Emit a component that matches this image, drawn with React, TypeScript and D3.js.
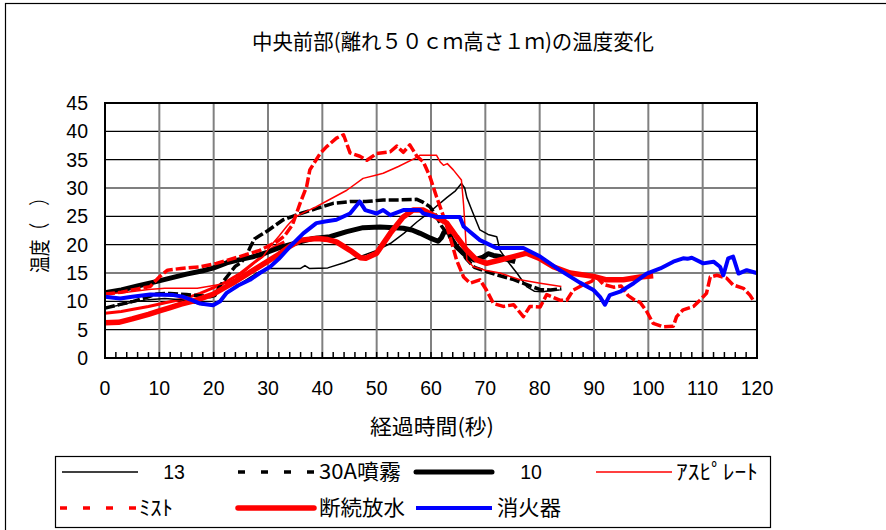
import React from "react";
import * as d3 from "d3";

type Pt = [number, number];

const xTicks = [0, 10, 20, 30, 40, 50, 60, 70, 80, 90, 100, 110, 120];
const yTicks = [0, 5, 10, 15, 20, 25, 30, 35, 40, 45];

const s13: Pt[] = [[0,8.8],[3,9.4],[5.2,9.9],[8,10.3],[11,10.5],[14,10.3],[16,9.8],[18,9.4],[19.5,9.3],[21,10],[22.5,11.4],[24,12.6],[26,13.8],[28,15],[30,15.8],[33,15.8],[36,15.8],[36.8,16.3],[37.6,15.8],[41,15.9],[44,16.8],[47,17.9],[50,19],[52.5,20.2],[55,22],[57.4,24],[59.8,25.8],[62.9,28.3],[64.5,29.5],[65.6,30.8],[66.2,30],[66.6,28.3],[67.5,26.1],[69,22.6],[70.5,21.8],[72.1,21.4],[72.7,19],[74,17.2],[75.8,15],[77.6,12.6],[79,11.8],[80.6,11.7],[82,11.9],[83.7,12]];
const s30A: Pt[] = [[0,8.8],[3,9.5],[5.2,10],[8,10.8],[9.5,11.3],[12,11.4],[15,11.2],[17.5,11],[19.3,10.8],[20.2,11],[21,12.5],[22,13.8],[23,15],[24,16.2],[25,16.8],[26,18],[26.7,19.5],[27.5,21],[28.5,21.6],[30,22.5],[32.8,24.4],[36,25.5],[39,26.4],[42,27.3],[45.1,27.6],[48,27.6],[51.2,27.9],[54.3,27.9],[57.4,28],[58.5,27.5],[59.8,26.7],[61,25],[62,23.2],[63.5,21.3],[65,19.5],[66.5,17.5],[68,16],[70,15.3],[72,14.7],[75,13.9],[78,12.8],[80,12.1],[82,12],[84,12.2]];
const s10: Pt[] = [[0,11.5],[3,12],[6,12.7],[9,13.4],[12,14.1],[15,14.8],[18,15.4],[20,15.9],[22.4,16.8],[25,17.4],[27,17.8],[30,18.7],[32.2,19.5],[35.9,20.5],[38.3,21.1],[41.4,21.4],[44.5,22.3],[47.5,23],[50.6,23.1],[54.9,22.9],[56.5,22.6],[58,22],[60,21.1],[61.3,20.6],[61.9,21.2],[62.4,22.2],[63.2,22.3],[63.8,21],[64.7,19.6],[66.6,17.9],[68,17.3],[69.6,17.8],[70.5,18.4],[71.5,18.1],[72.7,17.9],[74,17.4],[75.5,17]];
const sAspirate: Pt[] = [[0,11.3],[4,11.6],[8,12.1],[11,12.3],[17,12.3],[20,12.8],[22.4,13.2],[24,14],[26,15.5],[27.5,16.8],[29,17.8],[30.5,19.8],[32,21.5],[33.5,23.3],[35,24.9],[36.5,25.6],[38.9,26.7],[41,27.8],[44.5,29.6],[47.5,31.7],[50,32.3],[51.2,32.6],[54,33.8],[57.4,35.4],[58,35.8],[61,35.8],[61.7,34.6],[62.3,34],[63,34.3],[64.1,33.2],[65.6,31.4],[66,27],[66.3,22.6],[66.6,17.3],[67.8,16.1],[70,15.5],[72.7,15],[76.4,13.8],[80.1,13.2],[84,12.6]];
const sMist: Pt[] = [[0,11.3],[3,11.6],[6,12.2],[8.3,12.6],[10,14.3],[11.5,15.5],[14,15.8],[17.5,16.1],[20.5,16.7],[24.8,17.9],[28.5,19],[31.6,20.5],[33,21.5],[34.5,23.5],[35.9,27.3],[37.1,30.2],[37.7,33.2],[39.6,36.1],[40.8,37.3],[42.6,38.8],[43.9,39.4],[45.1,36.2],[46.9,35.6],[48.2,34.9],[50,36.1],[52.5,36.4],[53.7,37.4],[54.9,36.3],[56.1,37.6],[57.4,35.6],[58.6,34.6],[59.8,32],[61,28.5],[62.3,25],[63.5,21.4],[64.7,17.3],[66,14.3],[67.2,13.2],[69,13.8],[70.2,12],[71.5,9.6],[73.3,9.1],[75.2,9.4],[77,7.3],[78.2,9.1],[80.1,9],[81.3,11.2],[83.7,10.2],[85,10.2],[86.2,12],[88,12.9],[89.5,13.5],[90.5,14.3],[91.7,13],[93.6,12.5],[95,12.7],[96.3,11],[97.5,10.2],[98.5,9.8],[99.7,8.2],[100.9,6.1],[102.7,5.5],[104.6,5.6],[105.2,7.3],[106.4,8.5],[108.3,9.1],[109.5,10.2],[110.7,11.4],[111.4,14.3],[112.6,14.6],[114.4,14.1],[115.6,12.9],[117.5,12.3],[118.7,11.1],[119.3,10.2]];
const sIntermittent: Pt[] = [[0,6.2],[2.5,6.3],[5,6.9],[8,7.7],[10,8.3],[12,8.9],[14,9.5],[16,10],[18,10.6],[20,11.3],[22,12.4],[24,13.5],[26,14.7],[28,15.9],[30,17.1],[32,18.3],[34,19.7],[36,20.8],[39,21.1],[41,20.9],[42.6,20.5],[45.1,19],[47,17.7],[48,17.6],[50,18.5],[52.5,22],[54.9,24.9],[56.7,26.1],[58.6,26.1],[60.4,25.2],[62.9,23.8],[64.7,21.4],[66.6,19],[68.4,17.3],[70.2,16.7],[72.7,17.3],[75.2,17.9],[77.6,18.5],[80.1,17.5],[82.5,16.1],[85.6,15],[89.9,14.4],[92.3,13.8],[95.4,13.8],[98.5,14.3],[100.9,14.5]];
const sExtinguisher: Pt[] = [[0,10.8],[2.8,10.5],[5,10.8],[8.3,11.2],[12.6,11.1],[14.4,10.8],[16,10.2],[17.5,9.6],[19.9,9.3],[21.2,10],[22.4,11.5],[24.5,12.8],[26.7,13.8],[28.5,15],[30.4,16.1],[32,17.5],[34,19.6],[36.5,22],[38.9,23.8],[40.5,24.1],[42.6,24.4],[45.1,25.5],[46.9,27.6],[47.9,26.1],[50,25.5],[51.2,26.1],[52.5,25.2],[54.9,26.1],[58,26.1],[58.6,25.5],[61,24.9],[65.3,24.9],[66,23.2],[69,20.8],[72.1,19.4],[77,19.4],[80.1,17.9],[83.7,15.5],[87.4,13.3],[89.9,12],[91.1,10.8],[92,9.4],[92.9,11.1],[94.8,11.7],[97.3,13.2],[99.7,14.9],[102.2,15.8],[104.6,17],[106.4,17.6],[107.2,17.5],[108,17.7],[110.1,16.7],[112,17],[113.2,16.1],[113.8,14.6],[114.7,17.6],[115.6,17.9],[116.6,14.9],[118.1,15.5],[119.9,15]];
// series visible in the plot whose legend entry is absent
const sUnlabeledRed: Pt[] = [[0,7.9],[3,8.2],[5.2,8.6],[8,9.1],[11.3,9.8],[14.4,10.4],[17.5,11.4],[20,12.4],[22.4,13.5],[25,15],[27,16.5],[29,18],[31,19.5],[33,20.5]];

const seriesNames = ["13", "30A噴霧", "10", "ｱｽﾋﾟﾚｰﾄ", "ﾐｽﾄ", "断続放水", "消火器"];

const title = "中央前部(離れ５０ｃｍ高さ１ｍ)の温度変化";
const xTitle = "経過時間(秒)";
const yTitle = "温度（　）";

const JP = "'Noto Sans CJK JP', 'Noto Sans', sans-serif";
const LAT = "'Liberation Sans', Arial, sans-serif";

export default function App() {
  const W = 886, H = 530;
  const x = d3.scaleLinear().domain([0, 120]).range([105, 757]);
  const y = d3.scaleLinear().domain([0, 45]).range([358, 103]);
  const line = d3.line<Pt>().x(d => x(d[0])).y(d => y(d[1]));

  const styles = [
    { data: s13, color: "#000", w: 1.5, dash: undefined as string | undefined, legDash: undefined as string | undefined },
    { data: s30A, color: "#000", w: 3.5, dash: "10,3", legDash: "7,16" },
    { data: s10, color: "#000", w: 5, dash: undefined, legDash: undefined },
    { data: sAspirate, color: "#f00", w: 1.5, dash: undefined, legDash: undefined },
    { data: sMist, color: "#f00", w: 3.5, dash: "10,3", legDash: "7,16" },
    { data: sIntermittent, color: "#f00", w: 5.5, dash: undefined, legDash: undefined },
    { data: sExtinguisher, color: "#00f", w: 4, dash: undefined, legDash: undefined },
  ];

  const minor = d3.range(0, 121, 2);

  const legendPos = [
    { lx: 62, ly: 472, tx: 174, anchor: "middle", tl: 0 },
    { lx: 238, ly: 472, tx: 319, anchor: "start", tl: 82 },
    { lx: 416, ly: 472, tx: 531, anchor: "middle", tl: 0 },
    { lx: 596, ly: 472, tx: 676, anchor: "start", tl: 82 },
    { lx: 60, ly: 508, tx: 139, anchor: "start", tl: 34 },
    { lx: 238, ly: 508, tx: 319, anchor: "start", tl: 86 },
    { lx: 416, ly: 508, tx: 497, anchor: "start", tl: 64 },
  ];

  return (
    <svg width={W} height={H} style={{ position: "absolute", left: 0, top: 0, background: "#fff" }}>
      <rect x={0} y={0} width={W} height={H} fill="#fff" />
      <rect x={5.5} y={3.5} width={W + 20} height={H + 20} fill="none" stroke="#000" strokeWidth={1.2} />
      <text x={453} y={49} textAnchor="middle" fontFamily={JP} fontSize={21} textLength={402} lengthAdjust="spacingAndGlyphs">{title}</text>

      {yTicks.map(t => (
        <line key={"h" + t} x1={x(0)} x2={x(120)} y1={y(t)} y2={y(t)} stroke="#000" strokeWidth={1.2} />
      ))}
      {xTicks.map(t => (
        <line key={"v" + t} x1={x(t)} x2={x(t)} y1={y(45)} y2={y(0)} stroke="#808080" strokeWidth={2} />
      ))}
      {minor.map(t => (
        <line key={"m" + t} x1={x(t)} x2={x(t)} y1={y(0)} y2={y(0) - 6} stroke="#000" strokeWidth={1.5} />
      ))}

      <path d={line(sUnlabeledRed) || ""} fill="none" stroke="#f00" strokeWidth={3} strokeLinejoin="round" />
      {styles.map((s, i) => (
        <path key={"s" + i} d={line(s.data) || ""} fill="none" stroke={s.color} strokeWidth={s.w}
          strokeDasharray={s.dash} strokeLinejoin="round" />
      ))}

      <rect x={x(0)} y={y(45)} width={x(120) - x(0)} height={y(0) - y(45)} fill="none" stroke="#000" strokeWidth={2} />

      {yTicks.map(t => (
        <text key={"yl" + t} x={88} y={y(t) + 7} textAnchor="end" fontFamily={LAT} fontSize={19.5}>{t}</text>
      ))}
      {xTicks.map(t => (
        <text key={"xl" + t} x={x(t)} y={395} textAnchor="middle" fontFamily={LAT} fontSize={19.5}>{t}</text>
      ))}
      <text x={432} y={434} textAnchor="middle" fontFamily={JP} fontSize={21} textLength={124} lengthAdjust="spacingAndGlyphs">{xTitle}</text>
      <text transform="translate(47,231) rotate(-90)" textAnchor="middle" fontFamily={JP} fontSize={21} textLength={84} lengthAdjust="spacingAndGlyphs">{yTitle}</text>

      <rect x={55.5} y={456.5} width={715} height={71} fill="#fff" stroke="#000" strokeWidth={1.2} />
      {styles.map((s, i) => {
        const p = legendPos[i];
        return (
          <g key={"lg" + i}>
            <line x1={p.lx} x2={p.lx + 76} y1={p.ly} y2={p.ly} stroke={s.color} strokeWidth={s.w}
              strokeDasharray={s.legDash} strokeLinecap={s.w >= 5 ? "round" : "butt"} />
            <text x={p.tx} y={p.ly + 7} textAnchor={p.anchor as any} fontFamily={i === 0 || i === 2 ? LAT : JP}
              fontSize={i === 0 || i === 2 ? 19.5 : 21}
              {...(p.tl ? { textLength: p.tl, lengthAdjust: "spacingAndGlyphs" } : {})}>{seriesNames[i]}</text>
          </g>
        );
      })}
    </svg>
  );
}
